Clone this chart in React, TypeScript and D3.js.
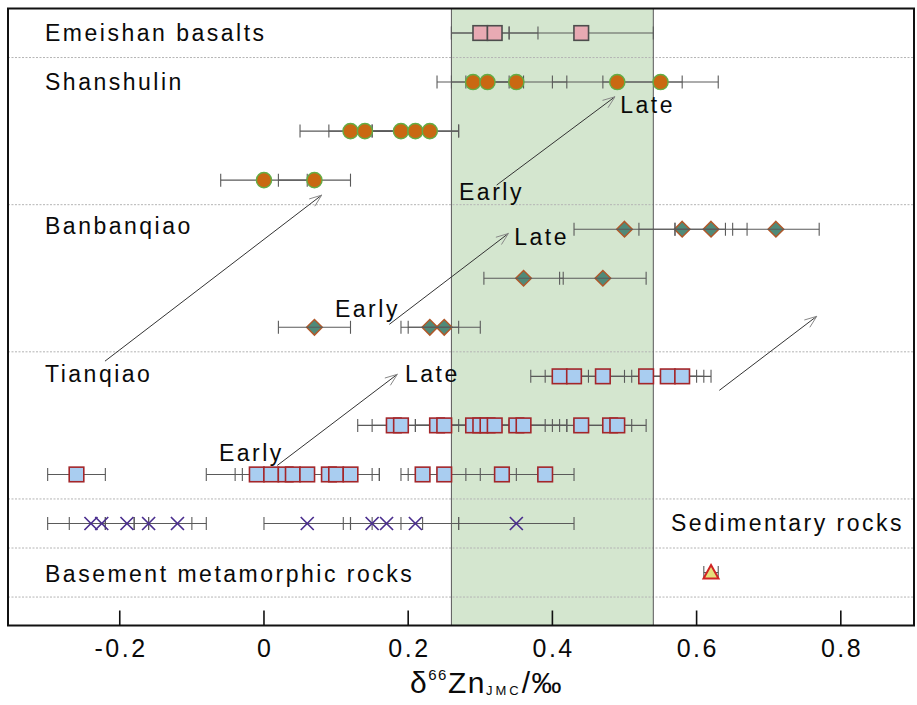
import React from 'react';
import * as d3 from 'd3';

const W = 917;
const H = 705;
const FONT = 'Liberation Sans, Arial, sans-serif';

// d66Zn values (‰) and 2SD, one array per row of the chart
const emeishanZn = [0.30, 0.32, 0.44];
const emeishanErr = [0.04, 0.06, 0.10];

const shanLateZn = [0.29, 0.31, 0.35, 0.49, 0.55];
const shanLateErr = [0.05, 0.05, 0.07, 0.09, 0.08];
const shanMidZn = [0.12, 0.14, 0.19, 0.21, 0.23];
const shanMidErr = [0.07, 0.05, 0.04, 0.06, 0.04];
const shanEarlyZn = [0.00, 0.07];
const shanEarlyErr = [0.06, 0.05];

const banLateZn = [0.50, 0.58, 0.62, 0.71];
const banLateErr = [0.07, 0.06, 0.05, 0.06];
const banMidZn = [0.36, 0.47];
const banMidErr = [0.055, 0.06];
const banEarlyZn = [0.07, 0.23, 0.25];
const banEarlyErr = [0.05, 0.04, 0.05];

const tianLateZn = [0.41, 0.43, 0.47, 0.53, 0.56, 0.58];
const tianLateErr = [0.04, 0.04, 0.03, 0.07, 0.05, 0.04];
const tianMidZn = [0.18, 0.19, 0.24, 0.25, 0.29, 0.30, 0.31, 0.32, 0.35, 0.36, 0.44, 0.48, 0.49];
const tianMidErr = [0.05, 0.04, 0.03, 0.04, 0.05, 0.05, 0.08, 0.09, 0.07, 0.06, 0.04, 0.05, 0.02];
const tianEarlyZn = [-0.26, -0.01, 0.01, 0.03, 0.04, 0.06, 0.09, 0.10, 0.12, 0.22, 0.25, 0.33, 0.39];
const tianEarlyErr = [0.04, 0.07, 0.05, 0.06, 0.05, 0.06, 0.07, 0.05, 0.04, 0.03, 0.05, 0.05, 0.04];

const sedimentZn = [-0.24, -0.225, -0.19, -0.16, -0.12, 0.06, 0.15, 0.17, 0.21, 0.35];
const sedimentErr = [0.06, 0.045, 0.03, 0.06, 0.04, 0.06, 0.04, 0.05, 0.06, 0.08];

const basementZn = [0.62];
const basementErr = [0.01];

const xTicks = [-0.2, 0, 0.2, 0.4, 0.6, 0.8];
const mantleBand = [0.26, 0.54];
const dividerRows = [0.5, 3.5, 6.5, 9.5, 10.5, 11.5];

const groupLabels = [
  { text: 'Emeishan basalts', row: 0.157 },
  { text: 'Shanshulin', row: 1.153 },
  { text: 'Banbanqiao', row: 4.088 },
  { text: 'Tianqiao', row: 7.12 },
  { text: 'Basement metamorphic rocks', row: 11.2 },
];

const stageLabels = [
  { text: 'Late', zn: 0.494, row: 1.64 },
  { text: 'Early', zn: 0.2705, row: 3.41 },
  { text: 'Late', zn: 0.347, row: 4.33 },
  { text: 'Early', zn: 0.0985, row: 5.79 },
  { text: 'Late', zn: 0.1956, row: 7.12 },
  { text: 'Early', zn: -0.0624, row: 8.73 },
];

// arrows: [fromZn, fromRow, toZn, toRow]
const arrows = [
  [0.3227, 3.10, 0.4868, 1.30],
  [-0.2205, 6.69, 0.080, 3.306],
  [0.1738, 5.94, 0.3389, 4.088],
  [0.6315, 7.286, 0.7666, 5.776],
  [0.0185, 8.816, 0.1849, 6.959],
];

const groups = [
  { row: 0, zn: emeishanZn, err: emeishanErr, shape: 'square', fill: '#e8aab3', stroke: '#4d4d4d' },
  { row: 1, zn: shanLateZn, err: shanLateErr, shape: 'circle', fill: '#c96812', stroke: '#63ad45' },
  { row: 2, zn: shanMidZn, err: shanMidErr, shape: 'circle', fill: '#c96812', stroke: '#63ad45' },
  { row: 3, zn: shanEarlyZn, err: shanEarlyErr, shape: 'circle', fill: '#c96812', stroke: '#63ad45' },
  { row: 4, zn: banLateZn, err: banLateErr, shape: 'diamond', fill: '#4f8a79', stroke: '#b0582a', barsOnTop: true },
  { row: 5, zn: banMidZn, err: banMidErr, shape: 'diamond', fill: '#4f8a79', stroke: '#b0582a', barsOnTop: true },
  { row: 6, zn: banEarlyZn, err: banEarlyErr, shape: 'diamond', fill: '#4f8a79', stroke: '#b0582a', barsOnTop: true },
  { row: 7, zn: tianLateZn, err: tianLateErr, shape: 'square', fill: '#a9cdf0', stroke: '#a3262a' },
  { row: 8, zn: tianMidZn, err: tianMidErr, shape: 'square', fill: '#a9cdf0', stroke: '#a3262a' },
  { row: 9, zn: tianEarlyZn, err: tianEarlyErr, shape: 'square', fill: '#a9cdf0', stroke: '#a3262a' },
  { row: 10, zn: sedimentZn, err: sedimentErr, shape: 'cross', fill: 'none', stroke: '#4a2e8e' },
  { row: 11, zn: basementZn, err: basementErr, shape: 'triangle', fill: '#e6e07a', stroke: '#d02424' },
];

const x = d3.scaleLinear().domain([-0.355, 0.9015]).range([8, 914]);
const y = d3.scaleLinear().domain([-0.5, 12.08]).range([8.5, 625.5]);

const plotL = x.range()[0];
const plotR = x.range()[1];
const plotT = y.range()[0];
const plotB = y.range()[1];

const marker = (shape, cx, cy, fill, stroke, key) => {
  if (shape === 'square') {
    const s = 14.6;
    return <rect key={key} x={cx - s / 2} y={cy - s / 2} width={s} height={s} fill={fill} stroke={stroke} strokeWidth={1.6} />;
  }
  if (shape === 'circle') {
    return <circle key={key} cx={cx} cy={cy} r={7.6} fill={fill} stroke={stroke} strokeWidth={1.4} />;
  }
  if (shape === 'diamond') {
    const d = 7.8;
    return <path key={key} d={`M${cx},${cy - d}L${cx + d},${cy}L${cx},${cy + d}L${cx - d},${cy}Z`} fill={fill} stroke={stroke} strokeWidth={1.5} />;
  }
  if (shape === 'cross') {
    const d = 6.5;
    return <path key={key} d={`M${cx - d},${cy - d}L${cx + d},${cy + d}M${cx - d},${cy + d}L${cx + d},${cy - d}`} fill="none" stroke={stroke} strokeWidth={1.7} />;
  }
  const w = 7.5;
  return <path key={key} d={`M${cx},${cy - 7.5}L${cx + w},${cy + 6}L${cx - w},${cy + 6}Z`} fill={fill} stroke={stroke} strokeWidth={2} />;
};

const errorBars = (g) =>
  g.zn.map((v, i) => {
    const cy = y(g.row);
    const x1 = x(v - g.err[i]);
    const x2 = x(v + g.err[i]);
    return (
      <g key={`e${g.row}-${i}`} stroke="#5a5a5a" strokeWidth={1.1}>
        <line x1={x1} x2={x2} y1={cy} y2={cy} />
        <line x1={x1} x2={x1} y1={cy - 6.5} y2={cy + 6.5} />
        <line x1={x2} x2={x2} y1={cy - 6.5} y2={cy + 6.5} />
      </g>
    );
  });

const arrowHead = (x1, y1, x2, y2) => {
  const a = Math.atan2(y2 - y1, x2 - x1);
  const L = 13;
  const w = 0.36;
  return `M${x2 - L * Math.cos(a - w)},${y2 - L * Math.sin(a - w)}L${x2},${y2}L${x2 - L * Math.cos(a + w)},${y2 - L * Math.sin(a + w)}`;
};

export default function App() {
  return (
    <svg width={W} height={H} style={{ position: 'absolute', left: 0, top: 0, background: '#fff' }} fontFamily={FONT}>
      <rect x={0} y={0} width={W} height={H} fill="#fff" />

      {/* mantle range */}
      <rect x={x(mantleBand[0])} y={plotT} width={x(mantleBand[1]) - x(mantleBand[0])} height={plotB - plotT} fill="#d4e6cf" />

      {dividerRows.map((r) => (
        <line key={r} x1={plotL} x2={plotR} y1={y(r)} y2={y(r)} stroke="#b4b4b4" strokeWidth={1} strokeDasharray="2,1.5" />
      ))}

      {mantleBand.map((v) => (
        <line key={v} x1={x(v)} x2={x(v)} y1={plotT} y2={plotB} stroke="#666" strokeWidth={1.1} />
      ))}

      {groups.map((g) => (
        <g key={g.row}>
          {!g.barsOnTop && errorBars(g)}
          {g.zn.map((v, i) => marker(g.shape, x(v), y(g.row), g.fill, g.stroke, i))}
          {g.barsOnTop && errorBars(g)}
        </g>
      ))}

      {/* arrows */}
      {arrows.map(([a, b, c, d], i) => {
        const x1 = x(a), y1 = y(b), x2 = x(c), y2 = y(d);
        return (
          <g key={i} fill="none">
            <line x1={x1} y1={y1} x2={x2} y2={y2} stroke="#333" strokeWidth={1} />
            <path d={arrowHead(x1, y1, x2, y2)} stroke="#888" strokeWidth={1} />
          </g>
        );
      })}

      {/* group labels */}
      {groupLabels.map((l) => (
        <text key={l.text} x={plotL + 37} y={y(l.row)} fontSize={23} letterSpacing={2.5} fill="#0a0a0a">
          {l.text}
        </text>
      ))}
      <text x={plotR - 10} y={y(10.16)} fontSize={23} letterSpacing={2.5} textAnchor="end" fill="#0a0a0a">
        Sedimentary rocks
      </text>

      {stageLabels.map((l, i) => (
        <text key={i} x={x(l.zn)} y={y(l.row)} fontSize={23} letterSpacing={2.5} fill="#0a0a0a">
          {l.text}
        </text>
      ))}

      {/* frame */}
      <rect x={plotL} y={plotT} width={plotR - plotL} height={plotB - plotT} fill="none" stroke="#111" strokeWidth={2} />

      {/* x axis */}
      {xTicks.map((t) => (
        <g key={t}>
          <line x1={x(t)} x2={x(t)} y1={plotB} y2={plotB - 15} stroke="#111" strokeWidth={1.6} />
          <text x={x(t) + 1.25} y={657} fontSize={25} letterSpacing={2.5} textAnchor="middle" fill="#0a0a0a">
            {t === 0 ? '0' : String(t)}
          </text>
        </g>
      ))}

      <text x={410} y={693} fontSize={30} fill="#0a0a0a" letterSpacing={1.5}>
        <tspan>δ</tspan>
        <tspan fontSize={15} dy={-13}>66</tspan>
        <tspan dy={13}>Zn</tspan>
        <tspan fontSize={13} dy={2} letterSpacing={3}>JMC</tspan>
        <tspan dy={-2}>/‰</tspan>
      </text>
    </svg>
  );
}
